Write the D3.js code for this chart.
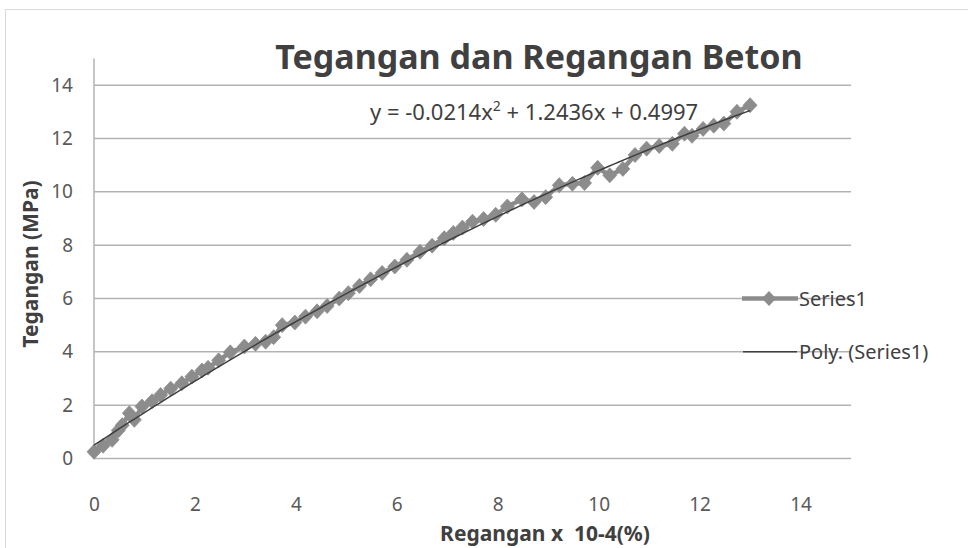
<!DOCTYPE html>
<html>
<head>
<meta charset="utf-8">
<script src="https://cdn.jsdelivr.net/npm/d3@7"></script>
<style>
  body { margin: 0; background: #ffffff; }
  svg { display: block; font-family: "Noto Sans", "Open Sans", sans-serif; }
</style>
</head>
<body>
<div id="chart"></div>
<script>
// data kira-kira
var regangan = [0, 0.18, 0.36, 0.48, 0.56, 0.7, 0.8, 0.95, 1.15, 1.32, 1.52, 1.74, 1.94, 2.14, 2.26, 2.47,
  2.7, 2.98, 3.2, 3.4, 3.56, 3.73, 3.98, 4.19, 4.42, 4.62, 4.86, 5.04, 5.26, 5.48, 5.71, 5.96, 6.2, 6.46,
  6.7, 6.94, 7.12, 7.3, 7.5, 7.72, 7.96, 8.19, 8.48, 8.72, 8.95, 9.22, 9.48, 9.72, 9.98, 10.22, 10.48,
  10.72, 10.95, 11.2, 11.46, 11.7, 11.85, 12.07, 12.28, 12.48, 12.74, 13.0];
var tegangan = [0.25, 0.48, 0.7, 1.05, 1.25, 1.7, 1.45, 1.95, 2.15, 2.38, 2.62, 2.82, 3.07, 3.3, 3.4, 3.68,
  3.98, 4.2, 4.3, 4.38, 4.55, 5.0, 5.1, 5.32, 5.52, 5.72, 6.0, 6.2, 6.47, 6.72, 6.96, 7.2, 7.45, 7.75,
  7.98, 8.26, 8.46, 8.66, 8.88, 8.98, 9.14, 9.45, 9.72, 9.62, 9.8, 10.25, 10.3, 10.33, 10.9, 10.62, 10.86,
  11.38, 11.62, 11.72, 11.8, 12.18, 12.1, 12.36, 12.48, 12.56, 13.0, 13.25];
var koefPoly = [0.4997, 1.2436, -0.0214]; // c0, c1, c2
var xTicks = [0, 2, 4, 6, 8, 10, 12, 14];
var yTicks = [0, 2, 4, 6, 8, 10, 12, 14];
var legendLabels = ["Series1", "Poly. (Series1)"];

var W = 968, H = 548;
var margin = { top: 58.5, left: 94, right: W - 851, bottom: H - 458.5 };
var width = W - margin.left - margin.right;
var height = H - margin.top - margin.bottom;

var svg = d3.select("#chart").append("svg")
    .attr("width", W)
    .attr("height", H);

// bingkai area grafik
svg.append("path")
    .attr("d", "M5.5," + H + " L5.5,9.5 L" + W + ",9.5")
    .attr("fill", "none")
    .attr("stroke", "#d9d9d9")
    .attr("stroke-width", 1);

var g = svg.append("g")
    .attr("transform", "translate(" + margin.left + "," + margin.top + ")");

var x = d3.scaleLinear().domain([0, 15]).range([0, width]);
var y = d3.scaleLinear().domain([0, 15]).range([height, 0]);

// garis grid
g.append("g").selectAll("line")
    .data(yTicks)
    .enter().append("line")
    .attr("x1", 0).attr("x2", width)
    .attr("y1", function(d) { return y(d); })
    .attr("y2", function(d) { return y(d); })
    .attr("stroke", "#b3b3b3")
    .attr("stroke-width", 1.5);

// garis sumbu y
g.append("line")
    .attr("x1", 0).attr("x2", 0)
    .attr("y1", 0).attr("y2", height)
    .attr("stroke", "#b3b3b3")
    .attr("stroke-width", 1.5);

// sumbu
var xAxis = d3.axisBottom(x).tickValues(xTicks).tickSize(0).tickPadding(39);
var yAxis = d3.axisLeft(y).tickValues(yTicks).tickSize(0).tickPadding(21);

g.append("g")
    .attr("transform", "translate(0," + height + ")")
    .call(xAxis)
    .call(function(s) { s.select(".domain").remove(); })
    .selectAll("text")
    .attr("font-size", 19)
    .attr("font-family", "Noto Sans")
    .attr("fill", "#595959");

g.append("g")
    .call(yAxis)
    .call(function(s) { s.select(".domain").remove(); })
    .selectAll("text")
    .attr("font-size", 19)
    .attr("font-family", "Noto Sans")
    .attr("fill", "#595959");

var data = regangan.map(function(v, i) { return { x: v, y: tegangan[i] }; });

// garis seri
var line = d3.line()
    .x(function(d) { return x(d.x); })
    .y(function(d) { return y(d.y); });

g.append("path")
    .datum(data)
    .attr("d", line)
    .attr("fill", "none")
    .attr("stroke", "#8c8c8c")
    .attr("stroke-width", 4.5)
    .attr("stroke-linejoin", "round");

var diamond = "M0,-7.5L7,0L0,7.5L-7,0Z";

g.selectAll(".titik")
    .data(data)
    .enter().append("path")
    .attr("class", "titik")
    .attr("d", diamond)
    .attr("transform", function(d) { return "translate(" + x(d.x) + "," + y(d.y) + ")"; })
    .attr("fill", "#8c8c8c")
    .attr("stroke", "#8c8c8c")
    .attr("stroke-width", 0.75);

// trendline polinomial
var trendX = d3.range(0, 13.001, 0.1);
var trend = trendX.map(function(v) {
    return { x: v, y: koefPoly[0] + koefPoly[1] * v + koefPoly[2] * v * v };
});

g.append("path")
    .datum(trend)
    .attr("d", line)
    .attr("fill", "none")
    .attr("stroke", "#3f3f3f")
    .attr("stroke-width", 1.5);

// persamaan
var eq = svg.append("text")
    .attr("x", 370)
    .attr("y", 120)
    .attr("font-size", 22)
    .attr("fill", "#404040");
eq.append("tspan").text("y = -0.0214x");
eq.append("tspan").attr("dy", -9).attr("font-size", 14).text("2");
eq.append("tspan").attr("dy", 9).text(" + 1.2436x + 0.4997");

// judul
svg.append("text")
    .attr("x", 539)
    .attr("y", 69)
    .attr("text-anchor", "middle")
    .attr("font-size", 34)
    .attr("font-weight", "bold")
    .attr("fill", "#404040")
    .text("Tegangan dan Regangan Beton");

// judul sumbu
svg.append("text")
    .attr("transform", "translate(38,264) rotate(-90)")
    .attr("text-anchor", "middle")
    .attr("font-size", 21)
    .attr("font-weight", "bold")
    .attr("fill", "#404040")
    .text("Tegangan (MPa)");

svg.append("text")
    .attr("x", 545)
    .attr("y", 541)
    .attr("text-anchor", "middle")
    .attr("font-size", 21)
    .attr("font-weight", "bold")
    .attr("fill", "#404040")
    .text("Regangan x  10-4(%)")
    .style("white-space", "pre");

// legenda
var legend = svg.append("g");
var ly = [y(6) + margin.top, y(4) + margin.top];

legend.append("line")
    .attr("x1", 742).attr("x2", 798)
    .attr("y1", ly[0]).attr("y2", ly[0])
    .attr("stroke", "#8c8c8c").attr("stroke-width", 4.5);
legend.append("path")
    .attr("d", diamond)
    .attr("transform", "translate(769," + ly[0] + ")")
    .attr("fill", "#8c8c8c");
legend.append("line")
    .attr("x1", 743).attr("x2", 797)
    .attr("y1", ly[1]).attr("y2", ly[1])
    .attr("stroke", "#3f3f3f").attr("stroke-width", 1.5);

legend.selectAll("text")
    .data(legendLabels)
    .enter().append("text")
    .attr("x", 799)
    .attr("y", function(d, i) { return ly[i]; })
    .attr("dy", "0.35em")
    .attr("font-size", 20)
    .attr("fill", "#404040")
    .text(function(d) { return d; });
</script>
</body>
</html>
